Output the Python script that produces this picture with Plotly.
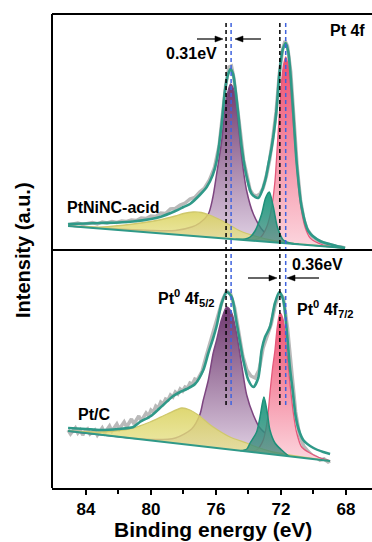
import plotly.graph_objects as go

# ---------------- data (x = binding energy, eV; y = intensity, a.u.) ----------------
# top panel : PtNiNC-acid
top_bg_x = [85.1, 68.06]
top_bg_y = [24, 2]

top_raw_x = [85.1, 84.8, 84.5, 84.2, 83.9, 83.6, 83.3, 83.0, 82.7, 82.4, 82.1, 81.8, 81.5, 81.2,
             80.9, 80.6, 80.3, 80.0, 79.7, 79.4, 79.1, 78.8, 78.5, 78.2, 77.9, 77.6, 77.3, 77.0,
             76.7, 76.4, 76.1, 75.8, 75.6, 75.4, 75.2, 75.05, 74.9, 74.7, 74.5, 74.3, 74.1, 73.9,
             73.7, 73.5, 73.3, 73.1, 72.9, 72.7, 72.5, 72.3, 72.1, 71.9, 71.75, 71.6, 71.4, 71.2,
             71.0, 70.8, 70.6, 70.4, 70.1, 69.8, 69.5, 69.2, 68.9, 68.6, 68.3, 68.06]
top_raw_y = [25, 26, 27, 25.5, 26.5, 27.5, 26, 28, 27, 28.5, 27.5, 29, 28.5, 30,
             29.5, 32, 31.5, 34, 33.5, 37, 36.5, 41, 41.5, 45, 47, 51, 52.5, 58,
             62, 70, 82, 105, 135, 165, 183, 184, 172, 148, 118, 90, 74, 60,
             55, 54, 56, 62, 74, 90, 112, 138, 176, 201, 209, 204, 178, 128,
             82, 50, 31, 21, 14, 10, 8, 6, 5, 3.5, 3, 2]

top_env_x = [85.1, 84.0, 83.1, 82.0, 81.1, 80.0, 79.45, 78.5, 78.0, 77.6, 77.0, 76.57, 76.2, 75.96,
             75.65, 75.45, 75.25, 75.1, 74.95, 74.83, 74.63, 74.42, 74.11, 73.8, 73.4, 72.98, 72.75,
             72.57, 72.3, 72.1, 71.9, 71.71, 71.55, 71.45, 71.24, 71.03, 70.73, 70.32, 69.6, 68.8, 68.06]
top_env_y = [26, 26.5, 27, 27.5, 28.5, 31, 33, 39, 43, 46, 55, 63, 75, 89,
             126, 159, 176, 181, 176, 164, 136, 103, 73, 56, 52, 69, 88,
             103, 136, 176, 200, 207, 198, 183, 136, 86, 43, 19, 9, 5, 2]

top_yel_x = [85.1, 83.0, 81.1, 79.5, 78.5, 78.0, 77.4, 76.9, 76.4, 75.6, 74.5, 73.5, 72.5, 71.5, 70.5, 68.06]
top_yel_y = [24, 23, 26, 30, 34, 36.5, 38, 37.5, 35, 29, 19, 13.5, 9.5, 7, 5.5, 2]

top_pur_x = [85.1, 80.0, 78.5, 77.5, 77.0, 76.47, 76.2, 75.96, 75.65, 75.38, 75.1, 74.83, 74.63,
             74.42, 74.11, 73.7, 73.09, 72.27, 71.5, 70.5, 68.06]
top_pur_y = [24, 19.5, 19.5, 23, 27, 36, 52, 76, 109, 149, 166, 156, 126,
             93, 59, 36, 19, 10, 7, 5.5, 2]

top_teal_x = [74.8, 74.2, 73.9, 73.6, 73.19, 72.95, 72.72, 72.47, 72.22, 71.86, 71.45, 70.9]
top_teal_y = [10.7, 11, 13, 19, 36, 52, 58, 43, 23, 10, 7, 5.7]

top_pink_x = [74.0, 73.3, 72.88, 72.57, 72.37, 72.23, 72.1, 71.96, 71.83, 71.71, 71.58, 71.45,
              71.29, 71.08, 70.83, 70.52, 70.2, 69.4, 68.06]
top_pink_y = [9.7, 12, 23, 43, 69, 103, 136, 169, 186, 193, 186, 169,
              136, 93, 49, 23, 12, 5, 2]

# bottom panel : Pt/C
bot_bg_x = [85.1, 68.98]
bot_bg_y = [57, 27]

bot_raw_x = [85.1, 84.95, 84.8, 84.65, 84.5, 84.35, 84.2, 84.05, 83.9, 83.75, 83.6, 83.45, 83.3,
             83.15, 83.0, 82.85, 82.7, 82.55, 82.4, 82.25, 82.1, 81.95, 81.8, 81.65, 81.5, 81.35,
             81.2, 81.05, 80.9, 80.75, 80.6, 80.45, 80.3, 80.15, 80.0, 79.85, 79.7, 79.55, 79.4,
             79.25, 79.1, 78.95, 78.8, 78.65, 78.5, 78.35, 78.2, 78.05, 77.9, 77.75, 77.6, 77.45,
             77.3, 77.15, 77.0, 76.85, 76.6, 76.35, 76.1, 75.85, 75.6, 75.35, 75.1, 74.85, 74.6,
             74.35, 74.1, 73.85, 73.6, 73.35, 73.1, 72.85, 72.6, 72.35, 72.1, 71.85, 71.6, 71.35,
             71.1, 70.85, 70.6, 70.35, 70.1, 69.85, 69.6, 69.35, 69.1, 68.98]
bot_raw_y = [58, 54, 57, 60, 55, 58, 53, 57, 59, 54, 56, 58, 53,
             57, 60, 55, 58, 62, 57, 60, 64, 59, 62, 66, 61, 65,
             69, 64, 68, 72, 67, 71, 75, 72, 78, 76, 82, 80, 86,
             84, 89, 88, 93, 91, 96, 94, 99, 97, 101, 100, 105, 104,
             109, 108, 113, 117, 132, 146, 160, 174, 188,
             197, 194, 180, 155, 132, 118, 112, 110, 118, 140, 152, 164, 183,
             195, 190, 160, 118, 76, 52, 42, 37, 33, 31, 28, 29, 26, 27]

bot_env_x = [85.1, 84.0, 83.14, 82.0, 81.09, 80.68, 80.0, 79.45, 78.63, 78.2, 77.8, 77.29, 76.78,
             76.47, 76.17, 75.96, 75.65, 75.34, 75.03, 74.73, 74.32, 74.01, 73.7, 73.4, 73.19,
             72.98, 72.68, 72.37, 72.1, 71.86, 71.65, 71.45, 71.3, 71.1, 70.94, 70.63, 70.0, 69.4, 68.98]
bot_env_y = [60, 59, 58, 59, 61, 66, 72, 80, 92, 96, 99, 104, 118,
             135, 150, 162, 185, 196, 191, 165, 128, 108, 101, 110, 138,
             151, 161, 185, 196, 188, 158, 120, 100, 72, 60, 48, 40, 36, 34]

bot_yel_x = [85.1, 83.1, 81.1, 80.06, 79.0, 78.1, 77.6, 77.09, 76.57, 76.17, 75.14, 74.11, 73.5,
             72.5, 71.5, 70.5, 68.98]
bot_yel_y = [57, 56, 60, 66, 74, 80, 78, 73, 66, 61, 51, 45, 41, 36, 33, 30.5, 27]

bot_pur_x = [85.1, 80.0, 78.5, 77.5, 77.0, 76.78, 76.47, 76.17, 75.96, 75.65, 75.34, 75.03, 74.73,
             74.42, 74.11, 73.7, 73.29, 72.47, 71.45, 70.42, 68.98]
bot_pur_y = [57, 48.5, 50, 59, 73, 88, 108, 135, 148, 169, 181, 175, 154,
             123, 93, 73, 60, 49, 41, 34, 27]

bot_teal_x = [74.5, 74.1, 73.9, 73.5, 73.29, 73.05, 72.84, 72.68, 72.37, 71.96, 71.5]
bot_teal_y = [37.3, 39, 45, 56, 71, 91, 75, 58, 45, 38, 31.7]

bot_pink_x = [74.2, 73.5, 73.09, 72.84, 72.68, 72.51, 72.37, 72.23, 72.06, 71.86, 71.65, 71.45,
              71.24, 71.03, 70.73, 70.22, 69.6, 68.98]
bot_pink_y = [36.7, 38, 48, 68, 95, 121, 138, 161, 175, 168, 138, 105,
              75, 55, 41, 35, 30, 27]

# reference peak positions (dashed guide lines)
ptc_peaks = [75.38, 72.07]       # black dashed
ptninc_peaks = [75.07, 71.71]    # blue dashed

x_ticks = [84, 80, 76, 72, 68]
x_minor = [82, 78, 74, 70]

# ---------------- styling ----------------
FONT = "Liberation Sans"
C_ENV = "#2f9988"
C_RAW = "#b9b9b9"
SM = 0.75

W, H = 372, 542
ML, MR, MT, MB = 52, 0, 14, 54
PW, PH = W - ML - MR, H - MT - MB
SPLIT = 238 / PH


def px(xp):
    return (xp - ML) / PW


def py(yp):
    return (MT + PH - yp) / PH


fig = go.Figure()


def add_panel(ya, bgx, bgy, raw_x, raw_y, env_x, env_y, yel, pur, teal, pink):
    fig.add_trace(go.Scatter(x=raw_x, y=raw_y, mode="lines", yaxis=ya,
                             line=dict(color=C_RAW, width=3.5), hoverinfo="skip"))
    comps = [
        (pur, "#7d4580", 1.5, [[0, "rgba(228,214,232,1)"], [1, "rgba(110,56,110,1)"]]),
        (pink, "#e4587a", 1.3, [[0, "rgba(252,214,222,1)"], [1, "rgba(238,76,110,1)"]]),
        (yel, "#cfc86c", 1.3, [[0, "rgba(234,230,150,0.72)"], [1, "rgba(218,210,95,0.88)"]]),
        (teal, "#1f8f79", 1.5, [[0, "rgba(60,130,118,0.7)"], [1, "rgba(28,160,132,0.97)"]]),
    ]
    for (cx, cy), lc, lw, cs in comps:
        fig.add_trace(go.Scatter(x=bgx, y=bgy, mode="lines", yaxis=ya,
                                 line=dict(width=0, color="rgba(0,0,0,0)"), hoverinfo="skip"))
        fig.add_trace(go.Scatter(x=cx, y=cy, mode="lines", yaxis=ya, fill="tonexty",
                                 fillgradient=dict(type="vertical", colorscale=cs),
                                 line=dict(color=lc, width=lw, shape="spline", smoothing=SM),
                                 hoverinfo="skip"))
    fig.add_trace(go.Scatter(x=bgx, y=bgy, mode="lines", yaxis=ya,
                             line=dict(color=C_ENV, width=2), hoverinfo="skip"))
    fig.add_trace(go.Scatter(x=env_x, y=env_y, mode="lines", yaxis=ya,
                             line=dict(color=C_ENV, width=2.6, shape="spline", smoothing=SM),
                             hoverinfo="skip"))


add_panel("y", bot_bg_x, bot_bg_y, bot_raw_x, bot_raw_y, bot_env_x, bot_env_y,
          (bot_yel_x, bot_yel_y), (bot_pur_x, bot_pur_y), (bot_teal_x, bot_teal_y),
          (bot_pink_x, bot_pink_y))
add_panel("y2", top_bg_x, top_bg_y, top_raw_x, top_raw_y, top_env_x, top_env_y,
          (top_yel_x, top_yel_y), (top_pur_x, top_pur_y), (top_teal_x, top_teal_y),
          (top_pink_x, top_pink_y))

shapes = []
for xv in ptc_peaks:
    shapes.append(dict(type="line", xref="x", yref="paper", x0=xv, x1=xv, y0=py(405), y1=py(23),
                       line=dict(color="black", width=1.5, dash="4px,3px")))
for xv in ptninc_peaks:
    shapes.append(dict(type="line", xref="x", yref="paper", x0=xv, x1=xv, y0=py(405), y1=py(23),
                       line=dict(color="#3f63dd", width=1.5, dash="4px,3px")))
# frame
for y0 in [1, SPLIT]:
    shapes.append(dict(type="line", xref="paper", yref="paper", x0=0, x1=1, y0=y0, y1=y0,
                       line=dict(color="black", width=2)))
shapes.append(dict(type="line", xref="paper", yref="paper", x0=0, x1=0, y0=0, y1=1,
                   line=dict(color="black", width=2)))

# arrows (shaft + filled head), head position / tail position in pixels
for hx, hy, tx in [(223, 39, 197), (235, 39, 261), (277, 278, 248), (287, 278, 319)]:
    d = 1 if hx > tx else -1
    shapes.append(dict(type="line", xref="paper", yref="paper", x0=px(tx), x1=px(hx - d * 6),
                       y0=py(hy), y1=py(hy), line=dict(color="black", width=1.2)))
    path = (f"M {px(hx)},{py(hy)} L {px(hx - d * 8)},{py(hy - 3)} "
            f"L {px(hx - d * 8)},{py(hy + 3)} Z")
    shapes.append(dict(type="path", xref="paper", yref="paper", path=path,
                       fillcolor="black", line=dict(color="black", width=0.5)))

bold = dict(family=FONT, size=16, color="black", weight="bold")
ann = [
    dict(text="Pt 4f", x=px(347), y=py(30)),
    dict(text="0.31eV", x=px(191), y=py(54)),
    dict(text="0.36eV", x=px(317), y=py(264)),
    dict(text="PtNiNC-acid", x=px(112.5), y=py(207.5)),
    dict(text="Pt/C", x=px(93.5), y=py(414)),
    dict(text="Pt<sup>0</sup> 4f<sub>5/2</sub>", x=px(186), y=py(298)),
    dict(text="Pt<sup>0</sup> 4f<sub>7/2</sub>", x=px(325), y=py(309)),
]
annotations = []
for a in ann:
    annotations.append(dict(text=a["text"], x=a["x"], y=a["y"], xref="paper", yref="paper",
                            showarrow=False, xanchor="center", yanchor="middle", font=bold))
annotations.append(dict(text="Binding energy (eV)", x=px(213), y=py(529.5), xref="paper",
                        yref="paper", showarrow=False, xanchor="center", yanchor="middle",
                        font=dict(family=FONT, size=21, color="black", weight="bold")))
annotations.append(dict(text="Intensity (a.u.)", x=px(23), y=py(250), xref="paper",
                        yref="paper", showarrow=False, textangle=-90, xanchor="center",
                        yanchor="middle",
                        font=dict(family=FONT, size=20, color="black", weight="bold")))

fig.update_layout(
    width=W, height=H, autosize=False,
    margin=dict(l=ML, r=MR, t=MT, b=MB),
    paper_bgcolor="white", plot_bgcolor="white",
    showlegend=False,
    xaxis=dict(range=[86.09, 66.4], tickvals=x_ticks, ticks="outside", ticklen=5, tickwidth=2,
               tickcolor="black", showline=True, linecolor="black", linewidth=2,
               showgrid=False, zeroline=False, anchor="y",
               tickfont=dict(family=FONT, size=17, color="black", weight="bold"),
               minor=dict(tickvals=x_minor, ticks="outside", ticklen=4, tickwidth=2,
                          tickcolor="black")),
    yaxis=dict(domain=[0, SPLIT], range=[0, 238], showticklabels=False, ticks="",
               showgrid=False, zeroline=False, showline=False),
    yaxis2=dict(domain=[SPLIT, 1], range=[0, 236], showticklabels=False, ticks="",
                showgrid=False, zeroline=False, showline=False, anchor="x"),
    shapes=shapes,
    annotations=annotations,
)

fig.write_html("out.html")
